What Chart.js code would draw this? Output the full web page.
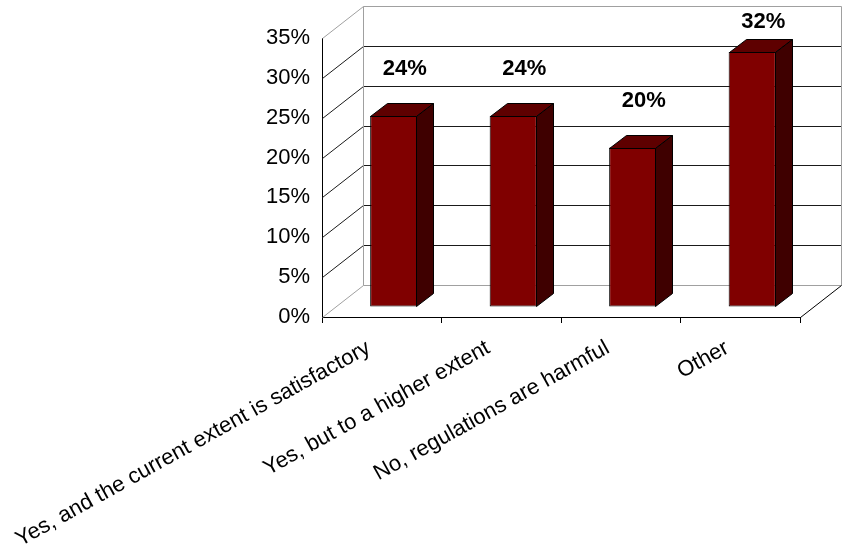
<!DOCTYPE html>
<html lang="en">
<head>
    <meta charset="UTF-8">
    <title>Regulations survey</title>
    <script src="https://cdn.jsdelivr.net/npm/chart.js"></script>
    <style>
        body {
            margin: 0;
            background: #fff;
        }
        .chart-box {
            width: 843px;
            height: 555px;
        }
    </style>
</head>
<body>
<div class="chart-box">
    <canvas id="surveyChart" width="843" height="555"></canvas>
</div>

<script>
    const categories = [
        'Yes, and the current extent is satisfactory',
        'Yes, but to a higher extent',
        'No, regulations are harmful',
        'Other'
    ];
    const shares = [24, 24, 20, 32];
    const yTickValues = [0, 5, 10, 15, 20, 25, 30, 35];

    // 3d look: how far the back wall sits from the front plane
    const DEPTH_X = 41;
    const DEPTH_Y = -32;
    const BAR_FRONT = 0.3;   // where the bar's front face sits in the depth
    const BAR_DEPTH = 0.42;  // how deep a bar is

    const barShift = { x: Math.round(DEPTH_X * BAR_FRONT), y: Math.round(DEPTH_Y * BAR_FRONT) };
    const barDepth = { x: Math.round(DEPTH_X * BAR_DEPTH), y: Math.round(DEPTH_Y * BAR_DEPTH) };

    function line(ctx, x1, y1, x2, y2, color) {
        ctx.beginPath();
        ctx.strokeStyle = color;
        ctx.moveTo(x1, y1);
        ctx.lineTo(x2, y2);
        ctx.stroke();
    }

    function poly(ctx, pts, fill) {
        ctx.beginPath();
        ctx.moveTo(pts[0][0], pts[0][1]);
        for (let i = 1; i < pts.length; i++) ctx.lineTo(pts[i][0], pts[i][1]);
        ctx.closePath();
        ctx.fillStyle = fill;
        ctx.fill();
        ctx.strokeStyle = '#000';
        ctx.stroke();
    }

    const walls3d = {
        id: 'walls3d',
        beforeDatasetsDraw(chart) {
            const { ctx, chartArea: a, scales: { y } } = chart;
            const left = Math.round(a.left) + 0.5;
            const right = Math.round(a.right) + 0.5;
            const bottom = Math.round(a.bottom) + 0.5;
            ctx.save();
            ctx.lineWidth = 1;
            const last = yTickValues[yTickValues.length - 1];
            yTickValues.forEach(v => {
                const py = Math.round(y.getPixelForValue(v)) + 0.5;
                const edge = v === 0 || v === last;
                const c = edge ? '#a0a0a0' : '#1a1a1a';
                line(ctx, left, py, left + DEPTH_X, py + DEPTH_Y, c);
                line(ctx, left + DEPTH_X, py + DEPTH_Y, right + DEPTH_X, py + DEPTH_Y, c);
            });
            const topY = Math.round(y.getPixelForValue(last)) + 0.5 + DEPTH_Y;
            line(ctx, left + DEPTH_X, topY, left + DEPTH_X, bottom + DEPTH_Y, '#a0a0a0');
            line(ctx, right + DEPTH_X, topY, right + DEPTH_X, bottom + DEPTH_Y, '#a0a0a0');
            // floor edge on the right
            line(ctx, right, bottom, right + DEPTH_X, bottom + DEPTH_Y, '#000');
            ctx.restore();
        },
        beforeDatasetDraw(chart) {
            chart.ctx.save();
            chart.ctx.translate(barShift.x, barShift.y);
        },
        afterDatasetDraw(chart, args) {
            const ctx = chart.ctx;
            ctx.restore();
            ctx.save();
            ctx.lineWidth = 1;
            args.meta.data.forEach(bar => {
                const l = Math.round(bar.x - bar.width / 2) + barShift.x + 0.5;
                const r = Math.round(bar.x + bar.width / 2) + barShift.x - 0.5;
                const t = Math.round(bar.y) + barShift.y + 0.5;
                const b = Math.round(bar.base) + barShift.y - 0.5;
                const dx = barDepth.x, dy = barDepth.y;
                poly(ctx, [[l, t], [r, t], [r + dx, t + dy], [l + dx, t + dy]], '#5e0000');
                poly(ctx, [[r, t], [r + dx, t + dy], [r + dx, b + dy], [r, b]], '#3f0000');
            });
            ctx.restore();
        },
        afterDatasetsDraw(chart) {
            const { ctx } = chart;
            const meta = chart.getDatasetMeta(0);
            ctx.save();
            ctx.font = 'bold 22px "Liberation Sans", Arial, sans-serif';
            ctx.fillStyle = '#000';
            ctx.textAlign = 'center';
            ctx.textBaseline = 'middle';
            meta.data.forEach((bar, i) => {
                const backTop = bar.y + barShift.y + barDepth.y;
                const ly = Math.max(22, backTop - 34);
                const lx = bar.x + barShift.x + 11;
                ctx.fillText(shares[i] + '%', lx, ly);
            });
            ctx.restore();
        }
    };

    Chart.defaults.font.family = '"Liberation Sans", Arial, sans-serif';
    Chart.defaults.font.size = 22;
    Chart.defaults.color = '#000';

    const ctx = document.getElementById('surveyChart').getContext('2d');
    new Chart(ctx, {
        type: 'bar',
        data: {
            labels: categories,
            datasets: [{
                data: shares,
                backgroundColor: '#800000',
                borderColor: '#000',
                borderWidth: 1,
                borderSkipped: false,
                categoryPercentage: 1,
                barPercentage: 0.395
            }]
        },
        options: {
            responsive: false,
            animation: false,
            events: [],
            layout: {
                padding: { top: 38, right: 43, left: 0, bottom: 0 }
            },
            plugins: {
                legend: { display: false },
                tooltip: { enabled: false }
            },
            scales: {
                x: {
                    grid: {
                        offset: true,
                        drawOnChartArea: false,
                        drawTicks: true,
                        tickLength: 6,
                        color: '#000'
                    },
                    border: { display: true, color: '#000' },
                    ticks: {
                        minRotation: 29,
                        maxRotation: 29,
                        padding: 12,
                        labelOffset: -13,
                        font: { size: 22 }
                    },
                    afterFit: s => {
                        s.height = 555 - 317;
                        s.paddingLeft = 0;
                        s.paddingRight = 0;
                    }
                },
                y: {
                    min: 0,
                    max: 35,
                    grid: { display: true, drawOnChartArea: false, drawTicks: false },
                    border: { display: true, color: '#000' },
                    afterBuildTicks: s => { s.ticks = yTickValues.map(v => ({ value: v })); },
                    ticks: {
                        padding: 12,
                        font: { size: 22 },
                        callback: v => v + '%'
                    },
                    afterFit: s => { s.width = 322; }
                }
            }
        },
        plugins: [walls3d]
    });
</script>
</body>
</html>
